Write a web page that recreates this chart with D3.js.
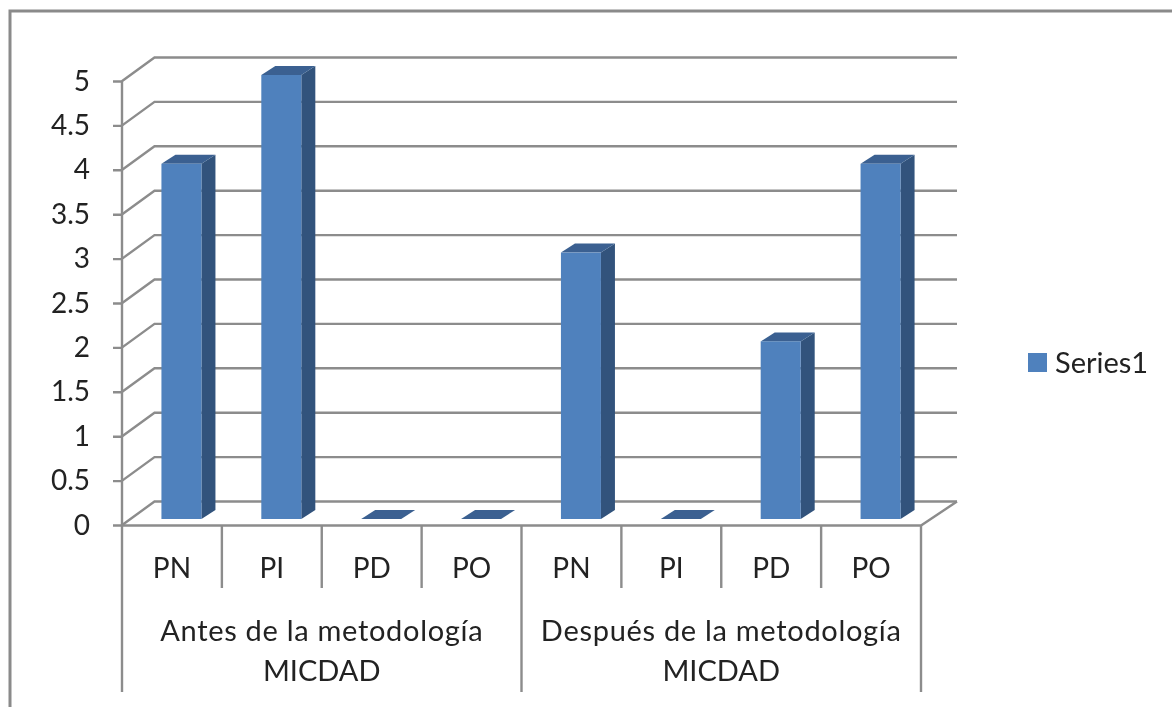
<!DOCTYPE html>
<html><head><meta charset="utf-8">
<script src="https://d3js.org/d3.v7.min.js"></script>
<style>html,body{margin:0;padding:0;background:#fff;overflow:hidden}svg{display:block}text{font-family:Lato,sans-serif;fill:#222}</style>
</head><body><div id="c"></div>
<script>
const subCategories = ["PN","PI","PD","PO","PN","PI","PD","PO"];
const groupLabels = [["Antes de la metodología","MICDAD"],["Después de la metodología","MICDAD"]];
const values = [4,5,0,0,3,0,2,4];
const yTicks = [0,0.5,1,1.5,2,2.5,3,3.5,4,4.5,5];
const seriesName = "Series1";

const W=1172,H=707, gray="#8c8c8c", front="#4f81bd", side="#30527c", topc="#3a6191";
const svg=d3.select("#c").append("svg").attr("width",W).attr("height",H);
const defs=svg.append("defs");
defs.append("filter").attr("id","soft").append("feGaussianBlur").attr("stdDeviation",0.6);
const g=svg.append("g").attr("filter","url(#soft)");

g.append("path").attr("d",`M10,${H+5}V11H${W+5}`).attr("fill","none").attr("stroke","#8a8a8a").attr("stroke-width",3);

const x=d3.scaleBand().domain(d3.range(8)).range([122,921]).padding(0);
const y=d3.scaleLinear().domain([0,5]).range([525.5,81.5]);
const dx=33, dy=-24, rightEnd=957;
const bw=40, bdx=14, bdy=-9, barBase=-6.5, barShift=9.5;

const grid=g.append("g").attr("stroke",gray).attr("stroke-width",2.4).attr("fill","none");
yTicks.forEach(t=>{
  grid.append("path").attr("d",`M113,${y(t)}H121.5L${121.5+dx},${y(t)+dy}H${rightEnd}`);
});
grid.append("path").attr("d",`M122,${y(0)}V${y(5)}`);
grid.append("path").attr("d",`M${rightEnd},${y(0)+dy}L921,${y(0)}H122`);

const ax=g.append("g").attr("stroke",gray).attr("stroke-width",2.4);
d3.range(9).forEach(i=>{
  const px=i===8?921:x(i);
  const long=i%4===0;
  ax.append("line").attr("x1",px).attr("x2",px).attr("y1",y(0)).attr("y2",long?692:588);
});

const bars=g.append("g").selectAll("g").data(values).join("g");
const bx=i=>x(i)+(x.bandwidth()-bw)/2+barShift;
bars.append("path").attr("fill",side).attr("d",(v,i)=>{
  const r=bx(i)+bw, b=y(0)+barBase, t=y(v)+barBase;
  return `M${r},${t}l${bdx},${bdy}V${b+bdy}l${-bdx},${-bdy}Z`;});
bars.append("path").attr("fill",topc).attr("d",(v,i)=>{
  const l=bx(i), t=y(v)+barBase;
  return `M${l},${t}l${bdx},${bdy}h${bw}l${-bdx},${-bdy}Z`;});
bars.append("rect").attr("fill",front).attr("x",(v,i)=>bx(i)).attr("width",bw)
  .attr("y",v=>y(v)+barBase).attr("height",v=>y(0)-y(v));

g.append("g").selectAll("text").data(yTicks).join("text")
  .attr("x",90).attr("y",t=>y(t)+9).attr("text-anchor","end").attr("font-size",28).text(t=>t);
g.append("g").selectAll("text").data(subCategories).join("text")
  .attr("x",(d,i)=>x(i)+x.bandwidth()/2).attr("y",578).attr("text-anchor","middle").attr("font-size",28).text(d=>d);
groupLabels.forEach((ls,i)=>{
  ls.forEach((l,j)=>g.append("text").attr("x",x(i*4)+x.bandwidth()*2).attr("y",641+j*40)
    .attr("text-anchor","middle").attr("font-size",29).attr("letter-spacing",j===0?0.7:0).text(l));
});
g.append("rect").attr("x",1028).attr("y",353).attr("width",19).attr("height",19).attr("fill",front);
g.append("text").attr("x",1055).attr("y",373).attr("font-size",29).text(seriesName);
</script></body></html>
